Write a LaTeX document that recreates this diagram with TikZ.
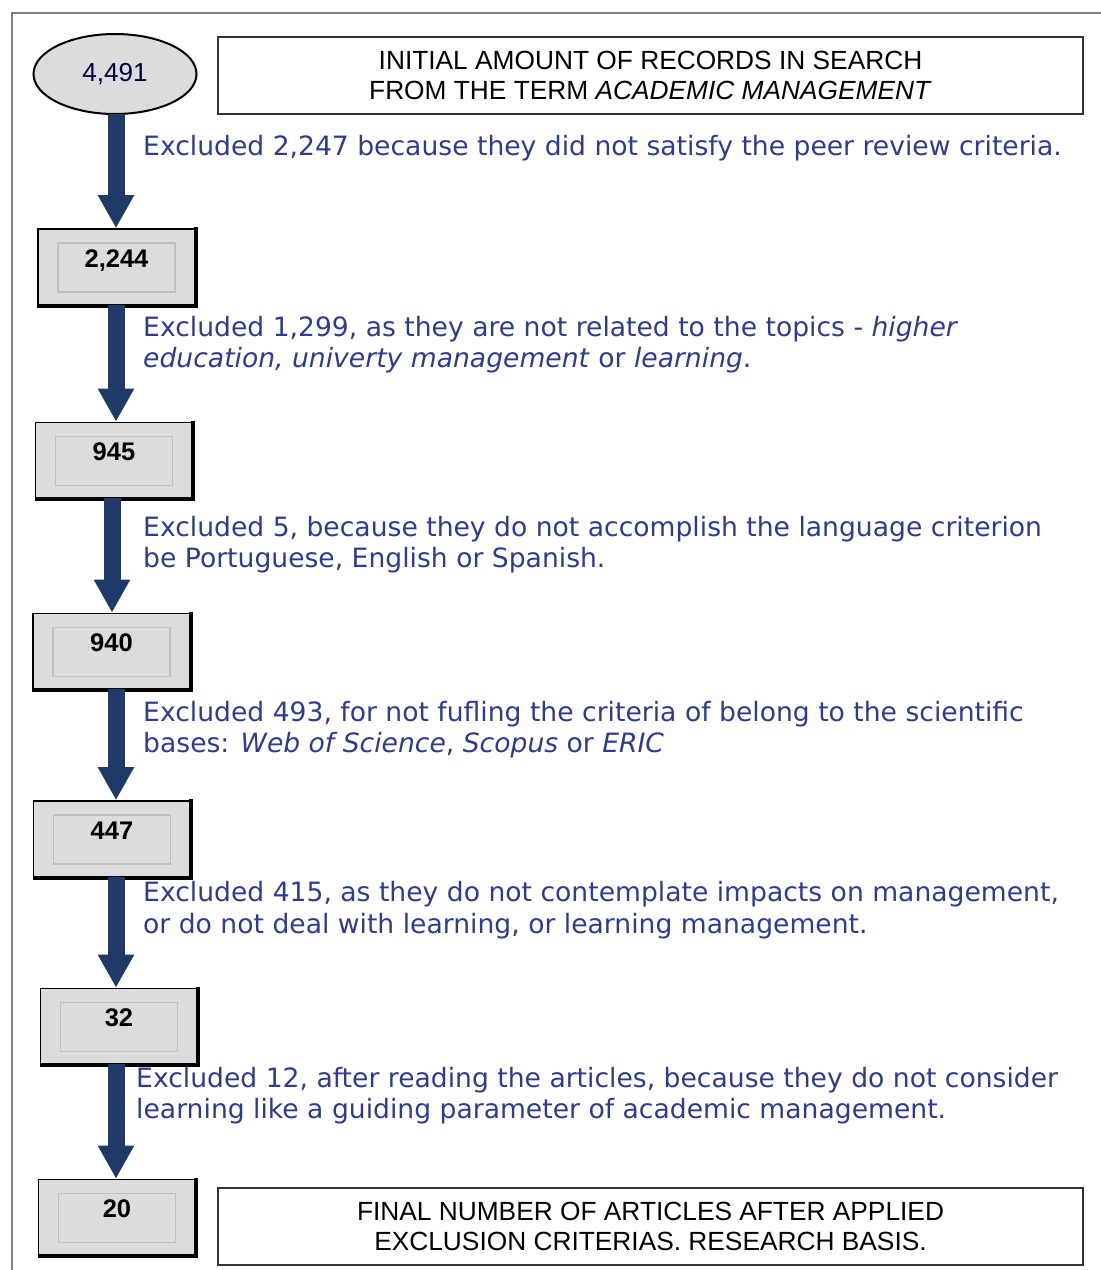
\documentclass[tikz,border=0pt]{standalone}
\usepackage{fontspec}
\setmainfont{Liberation Sans}
\newfontfamily\dejavu{DejaVu Sans}
\usetikzlibrary{shapes.geometric,arrows.meta,calc}
\definecolor{txtblue}{HTML}{2E3B8E}
\definecolor{navy}{HTML}{1F3A68}
\definecolor{boxgray}{HTML}{DCDCDC}
\tikzset{
  countbox/.style={draw=black, line width=1.6pt, fill=boxgray, minimum width=157pt, minimum height=76pt,
    inner sep=0pt, text height=18pt, text depth=18pt, font=\fontsize{25.5}{28}\selectfont\bfseries,
    path picture={\draw[black!25, line width=1.2pt]
      ([xshift=20pt,yshift=-14pt]path picture bounding box.north west) rectangle
      ([xshift=-20pt,yshift=13pt]path picture bounding box.south east);}},
  capbox/.style={draw=black!80, line width=2pt, minimum width=865pt, minimum height=77pt, align=center,
    font=\fontsize{26.3}{30}\selectfont},
  note/.style={anchor=west, align=left, inner sep=0pt, text=txtblue, font=\dejavu\fontsize{26.6}{31.5}\selectfont},
  flow/.style={navy, line width=17pt, -{Triangle[width=34pt,length=33pt]}, shorten <=-1pt}
}
\begin{document}
\begin{tikzpicture}[x=1pt,y=-1pt]
\useasboundingbox (0,0) rectangle (1101,1270);
\draw[black!50, line width=2.5pt] (12,1275) -- (12,13) -- (1106,13);

\node[ellipse, draw=black, line width=2pt, fill=boxgray, minimum width=163pt, minimum height=80pt,
  font=\fontsize{26}{28}\selectfont, text=black!75!blue] (e) at (115,74) {4,491};
\node[capbox] (top) at (650.5,75.5) {INITIAL AMOUNT OF RECORDS IN SEARCH\\FROM THE TERM \textit{ACADEMIC MANAGEMENT}};

\node[countbox] (b1) at (116.5,267) {2,244};
\node[countbox] (b2) at (114,460.5) {945};
\node[countbox] (b3) at (111.5,651.5) {940};
\node[countbox] (b4) at (112,839) {447};
\node[countbox] (b5) at (119,1026.5) {32};
\node[countbox] (b6) at (117,1217.5) {20};
\foreach \n in {b1,b2,b3,b4,b5,b6}
  \draw[black, line width=4pt] ([yshift=1pt]\n.north east) -- (\n.south east) -- (\n.south west);

\node[capbox] (bot) at (650.5,1226) {FINAL NUMBER OF ARTICLES AFTER APPLIED\\EXCLUSION CRITERIAS. RESEARCH BASIS.};

\draw[flow] ([xshift=1pt]e.south) -- ([xshift=1pt]e.south |- b1.north);
\draw[flow] ([xshift=-0.5pt]b1.south) -- ([xshift=-0.5pt]b1.south |- b2.north);
\draw[flow] ([xshift=-2pt]b2.south) -- ([xshift=-2pt]b2.south |- b3.north);
\draw[flow] ([xshift=4.5pt]b3.south) -- ([xshift=4.5pt]b3.south |- b4.north);
\draw[flow] ([xshift=4pt]b4.south) -- ([xshift=4pt]b4.south |- b5.north);
\draw[flow] ([xshift=-3pt]b5.south) -- ([xshift=-3pt]b5.south |- b6.north);

\node[note] (t1) at (143,148) {Excluded 2,247 because they did not satisfy the peer review criteria.};
\node[note] (t2) at (143,344.5) {Excluded 1,299, as they are not related to the topics - \textit{higher}\\\textit{education, univerty management} or \textit{learning}.};
\node[note] (t3) at (143,544.5) {Excluded 5, because they do not accomplish the language criterion\\be Portuguese, English or Spanish.};
\node[note] (t4) at (143,729.5) {Excluded 493, for not fufling the criteria of belong to the scientific\\bases: \textit{Web of Science}, \textit{Scopus} or \textit{ERIC}};
\node[note] (t5) at (143,910) {Excluded 415, as they do not contemplate impacts on management,\\or do not deal with learning, or learning management.};
\node[note] (t6) at (136,1095.5) {Excluded 12, after reading the articles, because they do not consider\\learning like a guiding parameter of academic management.};
\end{tikzpicture}
\end{document}
